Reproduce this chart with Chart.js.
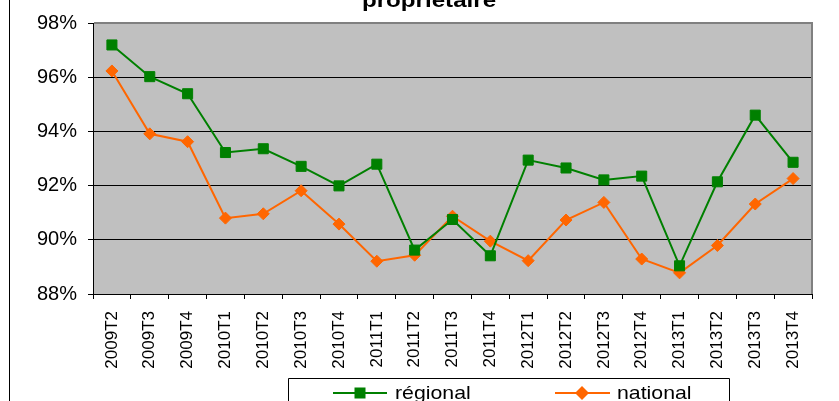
<!DOCTYPE html>
<html>
<head>
<meta charset="utf-8">
<script src="https://cdn.jsdelivr.net/npm/chart.js@4.4.1/dist/chart.umd.min.js"></script>
<style>
html,body{margin:0;padding:0;background:#fff;overflow:hidden;}
canvas{display:block;}
</style>
</head>
<body>
<canvas id="c" width="839" height="401"></canvas>
<script>
// ---- data ----
const categories = ['2009T2','2009T3','2009T4','2010T1','2010T2','2010T3','2010T4','2011T1','2011T2','2011T3','2011T4','2012T1','2012T2','2012T3','2012T4','2013T1','2013T2','2013T3','2013T4'];
const regional = [97.19, 96.02, 95.39, 93.22, 93.36, 92.71, 91.99, 92.79, 89.62, 90.75, 89.41, 92.94, 92.65, 92.21, 92.35, 89.04, 92.14, 94.60, 92.86];
const national = [96.23, 93.91, 93.62, 90.80, 90.96, 91.81, 90.58, 89.21, 89.43, 90.87, 89.95, 89.23, 90.73, 91.38, 89.29, 88.78, 89.79, 91.32, 92.26];
const yTicks = [88, 90, 92, 94, 96, 98];
const seriesNames = ['régional', 'national'];
const titleText = 'propriétaire';

const FONT = "'Liberation Sans', Arial, sans-serif";
const GREEN = '#008000';
const ORANGE = '#FF6600';

function stretchedText(ctx, text, x, y, font, sx, align) {
  ctx.save();
  ctx.font = font;
  const w = ctx.measureText(text).width * sx;
  let x0 = x;
  if (align === 'center') x0 = x - w / 2;
  ctx.translate(x0, y);
  ctx.scale(sx, 1);
  ctx.textAlign = 'left';
  ctx.textBaseline = 'alphabetic';
  ctx.fillStyle = '#000';
  ctx.fillText(text, 0, 0);
  ctx.restore();
}

const decor = {
  id: 'decor',
  beforeDraw(chart) {
    const { ctx, chartArea: a } = chart;
    ctx.save();
    ctx.fillStyle = '#fff';
    ctx.fillRect(0, 0, chart.width, chart.height);
    ctx.fillStyle = '#C0C0C0';
    ctx.fillRect(a.left, a.top, a.right - a.left, a.bottom - a.top);
    ctx.restore();
  },
  beforeDatasetsDraw(chart) {
    const { ctx, chartArea: a } = chart;
    ctx.save();
    ctx.strokeStyle = '#808080';
    ctx.lineWidth = 2;
    ctx.beginPath();
    ctx.moveTo(a.left + 1, a.top);
    ctx.lineTo(a.right, a.top);
    ctx.lineTo(a.right, a.bottom);
    ctx.stroke();
    ctx.restore();
  },
  afterDraw(chart) {
    const { ctx } = chart;
    ctx.save();
    // outer frame left edge
    ctx.strokeStyle = '#000';
    ctx.lineWidth = 1;
    ctx.beginPath();
    ctx.moveTo(9.5, 0);
    ctx.lineTo(9.5, chart.height);
    ctx.stroke();

    // title (cut off at top)
    stretchedText(ctx, titleText, 429, 7, 'bold 21px ' + FONT, 1.15, 'center');

    // legend box
    ctx.strokeStyle = '#000';
    ctx.lineWidth = 1;
    ctx.beginPath();
    ctx.moveTo(288.5, chart.height);
    ctx.lineTo(288.5, 378.5);
    ctx.lineTo(729.5, 378.5);
    ctx.lineTo(729.5, chart.height);
    ctx.stroke();

    const ly = 393;
    // régional
    ctx.strokeStyle = GREEN;
    ctx.lineWidth = 2;
    ctx.beginPath(); ctx.moveTo(333, ly); ctx.lineTo(387, ly); ctx.stroke();
    ctx.fillStyle = GREEN;
    ctx.fillRect(360 - 5.5, ly - 5.5, 11, 11);
    stretchedText(ctx, seriesNames[0], 395, 399, '19px ' + FONT, 1.12, 'left');
    // national
    ctx.strokeStyle = ORANGE;
    ctx.beginPath(); ctx.moveTo(555, ly); ctx.lineTo(610, ly); ctx.stroke();
    ctx.fillStyle = ORANGE;
    ctx.beginPath();
    ctx.moveTo(582 - 7, ly); ctx.lineTo(582, ly - 7); ctx.lineTo(582 + 7, ly); ctx.lineTo(582, ly + 7);
    ctx.closePath(); ctx.fill();
    stretchedText(ctx, seriesNames[1], 617, 399, '19px ' + FONT, 1.12, 'left');
    ctx.restore();
  }
};

new Chart(document.getElementById('c'), {
  type: 'line',
  data: {
    labels: categories,
    datasets: [
      {
        label: seriesNames[0], data: regional,
        borderColor: GREEN, backgroundColor: GREEN, borderWidth: 2,
        pointStyle: 'rect', pointRadius: 7.1, pointBorderWidth: 1,
        pointBackgroundColor: GREEN, pointBorderColor: GREEN, tension: 0
      },
      {
        label: seriesNames[1], data: national,
        borderColor: ORANGE, backgroundColor: ORANGE, borderWidth: 2,
        pointStyle: 'rectRot', pointRadius: 6, pointBorderWidth: 1,
        pointBackgroundColor: ORANGE, pointBorderColor: ORANGE, tension: 0
      }
    ]
  },
  options: {
    responsive: false,
    animation: false,
    devicePixelRatio: 1,
    events: [],
    layout: { padding: { left: 0, top: 19, right: 27, bottom: 0 } },
    plugins: { legend: { display: false }, title: { display: false }, tooltip: { enabled: false } },
    scales: {
      x: {
        type: 'category',
        offset: true,
        grid: { offset: true, drawOnChartArea: false, drawTicks: true, tickLength: 5, color: '#000', lineWidth: 1 },
        border: { display: true, color: '#000', width: 1 },
        ticks: {
          autoSkip: false, minRotation: 90, maxRotation: 90, padding: 12,
          color: '#000', font: { family: FONT, size: 17 }
        },
        afterFit(s) { s.height = 107; }
      },
      y: {
        min: 88, max: 98,
        grid: { color: '#000', lineWidth: 1, drawTicks: true, tickLength: 5 },
        border: { display: true, color: '#000', width: 1 },
        ticks: {
          padding: 11, color: '#000', font: { family: FONT, size: 20 },
          callback: v => v + '%'
        },
        afterBuildTicks(s) { s.ticks = yTicks.map(v => ({ value: v })); },
        afterFit(s) { s.width = 93; }
      }
    }
  },
  plugins: [decor]
});
</script>
</body>
</html>
